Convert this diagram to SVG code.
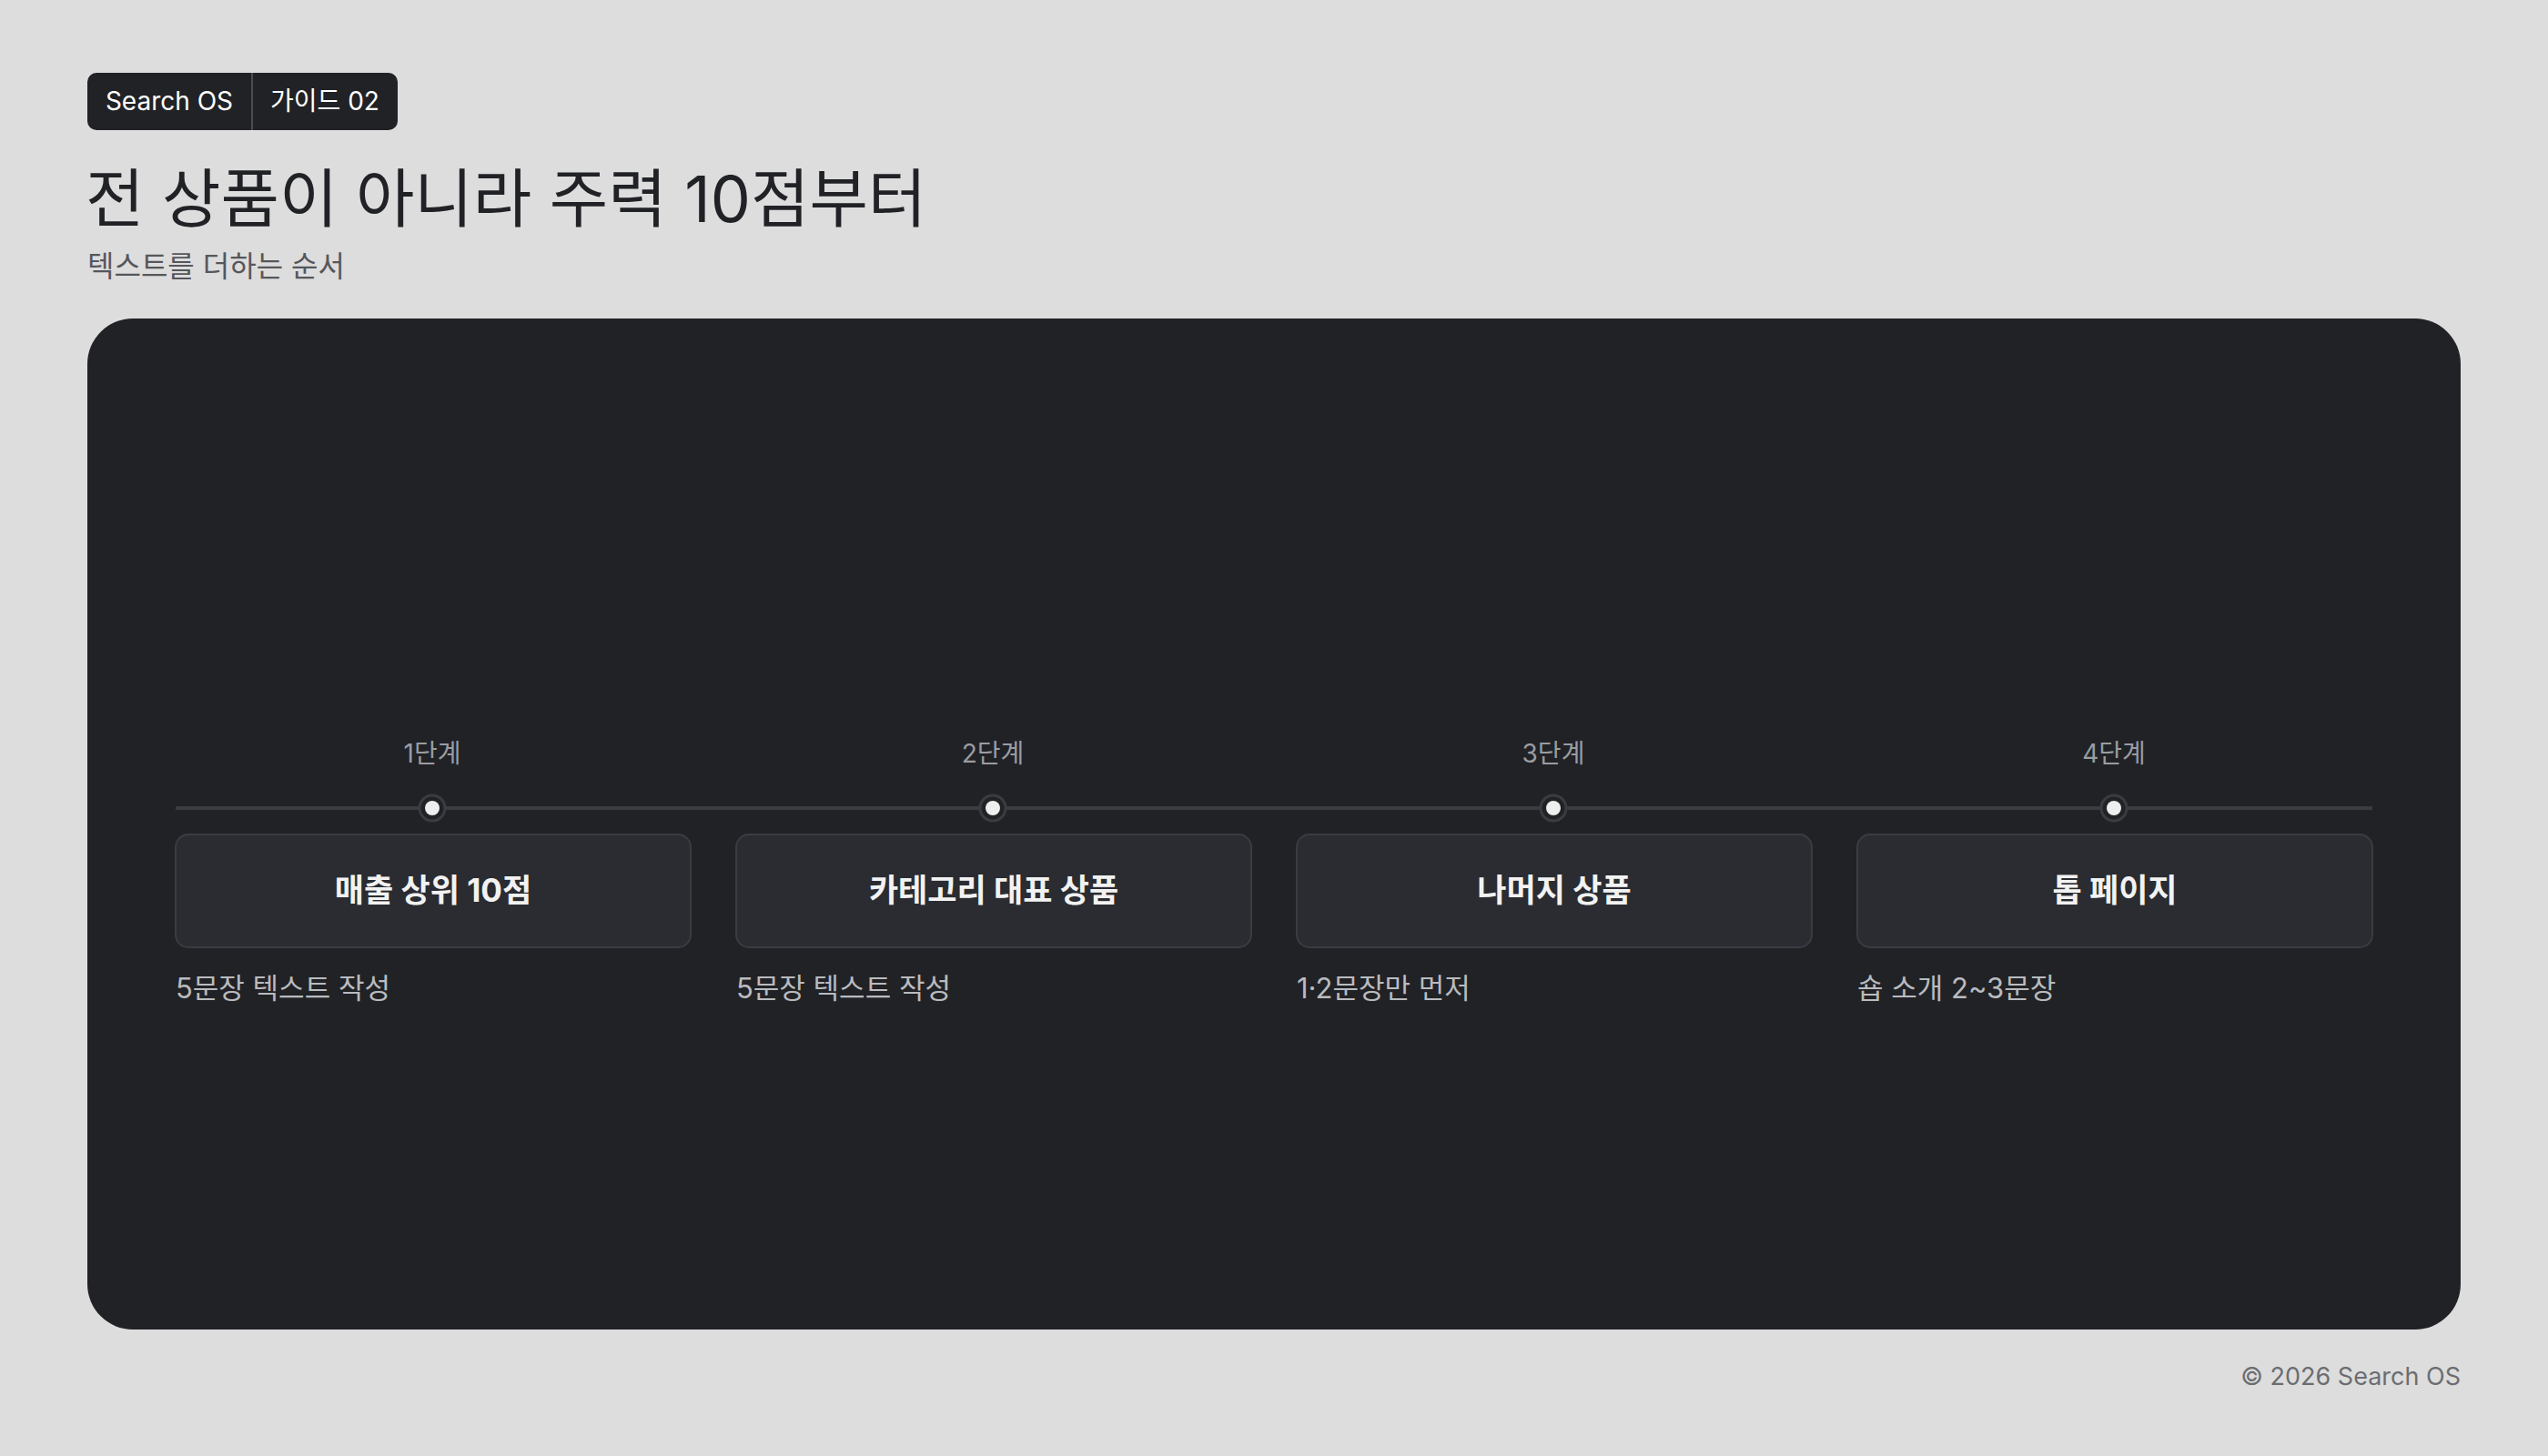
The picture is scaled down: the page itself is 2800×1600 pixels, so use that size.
<svg xmlns="http://www.w3.org/2000/svg" width="2800" height="1600" viewBox="0 0 2800 1600">
<style>
text{font-family:Inter,"Noto Sans","Noto Sans CJK KR",sans-serif}
.step{font-size:28px;fill:#9a9ca1;text-anchor:middle}
.box{fill:#2a2c31;stroke:#3a3c42;stroke-width:2}
.bt{font-size:35px;font-weight:700;fill:#f2f2f2;text-anchor:middle}
.sub{font-size:31px;fill:#b9bbbf}
</style>
<rect width="2800" height="1600" fill="#dddddd"/>
<g id="badge">
<rect x="96" y="80" width="341" height="63" rx="10" fill="#212226"/>
<line x1="277" y1="80" x2="277" y2="143" stroke="#4a4c51" stroke-width="2"/>
<text x="186" y="121" font-size="28" fill="#fff" text-anchor="middle">Search OS</text>
<text x="357" y="121" font-size="28" fill="#fff" text-anchor="middle">가이드 02</text>
</g>
<text x="94" y="244" font-size="70" fill="#212226">전 상품이 아니라 주력 10점부터</text>
<text x="96" y="304" font-size="32" fill="#55575c">텍스트를 더하는 순서</text>
<rect x="96" y="350" width="2608" height="1111" rx="50" fill="#212226"/>
<g id="connectors">
<line x1="193" y1="888" x2="2607" y2="888" stroke="#3a3c41" stroke-width="4"/>
</g>
<g id="step1">
<text class="step" x="475" y="838">1단계</text>
<circle cx="475" cy="888" r="14" fill="#212226" stroke="#3a3c41" stroke-width="3"/><circle cx="475" cy="888" r="8" fill="#eeeeee"/>
<rect class="box" x="193" y="917" width="566" height="124" rx="14"/>
<text class="bt" x="476" y="991">매출 상위 10점</text>
<text class="sub" x="193" y="1097">5문장 텍스트 작성</text>
</g>
<g id="step2">
<text class="step" x="1091" y="838">2단계</text>
<circle cx="1091" cy="888" r="14" fill="#212226" stroke="#3a3c41" stroke-width="3"/><circle cx="1091" cy="888" r="8" fill="#eeeeee"/>
<rect class="box" x="809" y="917" width="566" height="124" rx="14"/>
<text class="bt" x="1092" y="991">카테고리 대표 상품</text>
<text class="sub" x="809" y="1097">5문장 텍스트 작성</text>
</g>
<g id="step3">
<text class="step" x="1707" y="838">3단계</text>
<circle cx="1707" cy="888" r="14" fill="#212226" stroke="#3a3c41" stroke-width="3"/><circle cx="1707" cy="888" r="8" fill="#eeeeee"/>
<rect class="box" x="1425" y="917" width="566" height="124" rx="14"/>
<text class="bt" x="1708" y="991">나머지 상품</text>
<text class="sub" x="1425" y="1097">1·2문장만 먼저</text>
</g>
<g id="step4">
<text class="step" x="2323" y="838">4단계</text>
<circle cx="2323" cy="888" r="14" fill="#212226" stroke="#3a3c41" stroke-width="3"/><circle cx="2323" cy="888" r="8" fill="#eeeeee"/>
<rect class="box" x="2041" y="917" width="566" height="124" rx="14"/>
<text class="bt" x="2324" y="991">톱 페이지</text>
<text class="sub" x="2041" y="1097">숍 소개 2~3문장</text>
</g>
<text x="2704" y="1522" font-size="27" fill="#6b6d72" text-anchor="end">© 2026 Search OS</text>
</svg>
